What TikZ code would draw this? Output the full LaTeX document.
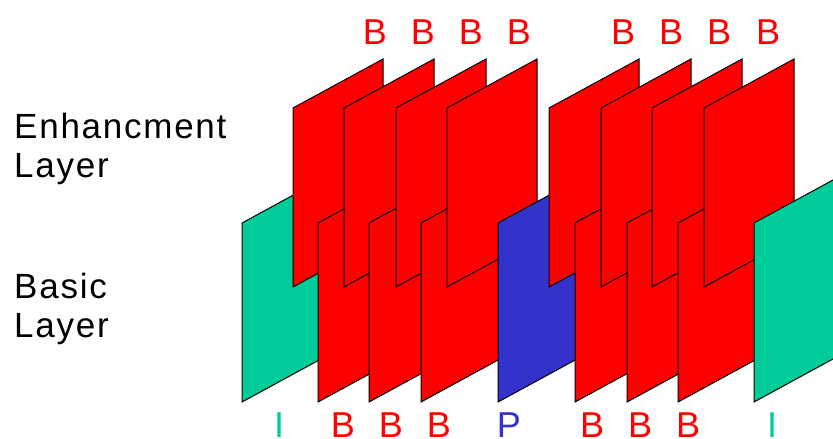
\documentclass[tikz,border=0pt]{standalone}
\usepackage{fontspec}
\setmainfont{Liberation Sans}
\definecolor{frameteal}{RGB}{0,204,153}
\definecolor{frameblue}{RGB}{51,51,204}
\definecolor{framered}{RGB}{255,0,0}

\begin{document}
\begin{tikzpicture}[x=1pt,y=-1pt,
	frame/.style={draw=black,line width=1pt,line join=miter},
	lbl/.style={font=\fontsize{36}{40}\selectfont,inner sep=0,anchor=base},
	side/.style={font=\fontsize{35}{39}\selectfont\addfontfeature{LetterSpace=5},inner sep=0,anchor=north west,align=left}]

	\useasboundingbox (0,0) rectangle (833,439);

	% frames from back to front: left edge / bottom / colour
	\foreach \x/\y/\c in {242/402/frameteal, 293/287/framered, 318/402/framered,
			344/287/framered, 369/402/framered, 396/287/framered, 421/402/framered,
			447/287/framered, 498/402/frameblue, 549/287/framered, 575/402/framered,
			601/287/framered, 627/402/framered, 652/287/framered, 678/402/framered,
			704/287/framered, 754/402/frameteal}
		\filldraw[frame,fill=\c] (\x,\y) -- ++(0,-179) -- ++(90,-49) -- ++(0,179) -- cycle;

	% enhancement layer labels
	\foreach \x [count=\i] in {375,423,471,519,623,671,719,768}
		\node[lbl,text=framered] (enh\i) at (\x,44) {B};

	% basic layer labels
	\node[lbl,text=frameteal] (bas1) at (279,437) {I};
	\node[lbl,text=framered] (bas2) at (343,437) {B};
	\node[lbl,text=framered] (bas3) at (391,437) {B};
	\node[lbl,text=framered] (bas4) at (439,437) {B};
	\node[lbl,text=frameblue] (bas5) at (509,437) {P};
	\node[lbl,text=framered] (bas6) at (592,437) {B};
	\node[lbl,text=framered] (bas7) at (640,437) {B};
	\node[lbl,text=framered] (bas8) at (688,437) {B};
	\node[lbl,text=frameteal] (bas9) at (772,437) {I};

	\node[side] (enhtxt) at (14,113) {Enhancment\\Layer};
	\node[side] (bastxt) at (14,273) {Basic\\Layer};

\end{tikzpicture}
\end{document}
